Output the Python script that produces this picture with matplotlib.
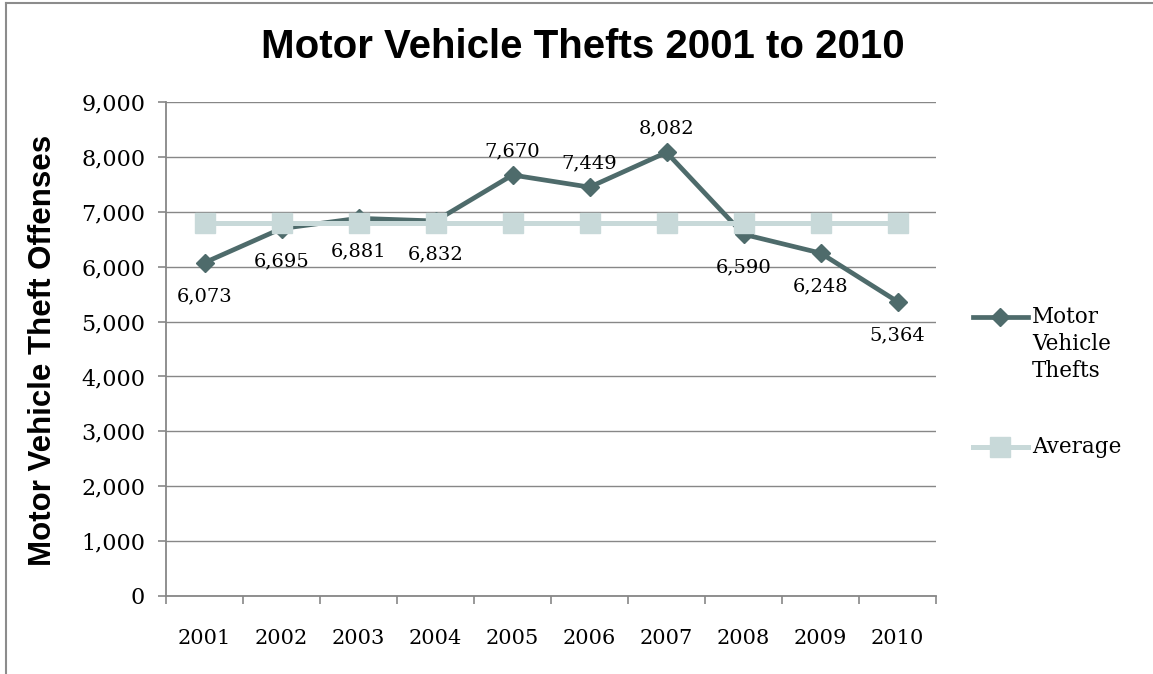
import matplotlib.pyplot as plt
from matplotlib.lines import Line2D
from matplotlib.ticker import StrMethodFormatter, FixedLocator

# Data
years = ['2001', '2002', '2003', '2004', '2005', '2006', '2007', '2008', '2009', '2010']
thefts = [6073, 6695, 6881, 6832, 7670, 7449, 8082, 6590, 6248, 5364]
average = [6788.4, 6788.4, 6788.4, 6788.4, 6788.4, 6788.4, 6788.4, 6788.4, 6788.4, 6788.4]
label_above = [False, False, False, False, True, True, True, False, False, False]

theft_color = '#4e6b6b'
avg_color = '#c8d9d9'
axis_color = '#878787'
serif = 'DejaVu Serif'

fig = plt.figure(figsize=(11.53, 6.74), dpi=100)
ax = fig.add_axes([166 / 1153, 78 / 674, 770 / 1153, 494 / 674])

x = list(range(len(years)))

# Series
ax.plot(x, thefts, color=theft_color, linewidth=3.4, marker='D', markersize=9.5,
        zorder=3)
ax.plot(x, average, color=avg_color, linewidth=3.6, marker='s', markersize=14,
        zorder=4)

# Data labels
for xi, val, up in zip(x, thefts, label_above):
    off = 17 if up else -24
    ax.annotate(f'{val:,}', (xi, val), xytext=(0, off), textcoords='offset points',
                ha='center', va='center', fontsize=14, family=serif, zorder=5)

# Axes
ax.set_xlim(-0.5, len(years) - 0.5)
ax.set_ylim(0, 9000)
ax.set_yticks(range(0, 9001, 1000))
ax.yaxis.set_major_formatter(StrMethodFormatter('{x:,.0f}'))
ax.set_xticks(x)
ax.set_xticklabels(years)
ax.xaxis.set_minor_locator(FixedLocator([i - 0.5 for i in range(len(years) + 1)]))
ax.tick_params(axis='x', which='major', length=0, pad=24, labelsize=15)
ax.tick_params(axis='x', which='minor', length=6, width=1.2, color=axis_color,
               direction='out')
ax.tick_params(axis='y', length=6, width=1.2, color=axis_color, pad=9,
               labelsize=16)
for lab in ax.get_xticklabels() + ax.get_yticklabels():
    lab.set_family(serif)

ax.grid(axis='y', color=axis_color, linewidth=1.0)
ax.set_axisbelow(True)
for side in ['top', 'right']:
    ax.spines[side].set_visible(False)
for side in ['left', 'bottom']:
    ax.spines[side].set_color(axis_color)
    ax.spines[side].set_linewidth(1.3)

# Title and axis label
fig.text(583 / 1153, 1 - 47 / 674, 'Motor Vehicle Thefts 2001 to 2010',
         ha='center', va='center', fontsize=29, fontweight='bold',
         family='Liberation Sans')
fig.text(43 / 1153, 1 - 350 / 674, 'Motor Vehicle Theft Offenses',
         ha='center', va='center', rotation=90, fontsize=22.5, fontweight='bold',
         family='Liberation Sans')

# Legend (drawn by hand so the key sits on the first text line)
fig.add_artist(Line2D([973 / 1153, 1028 / 1153], [1 - 317 / 674] * 2,
                      transform=fig.transFigure, color=theft_color, linewidth=3.4))
fig.add_artist(Line2D([1000 / 1153], [1 - 317 / 674], transform=fig.transFigure,
                      color=theft_color, marker='D', markersize=9.5))
fig.add_artist(Line2D([973 / 1153, 1028 / 1153], [1 - 447 / 674] * 2,
                      transform=fig.transFigure, color=avg_color, linewidth=3.6))
fig.add_artist(Line2D([1000 / 1153], [1 - 447 / 674], transform=fig.transFigure,
                      color=avg_color, marker='s', markersize=14))
fig.text(1032 / 1153, 1 - 344 / 674, 'Motor\nVehicle\nThefts', ha='left',
         va='center', fontsize=15.5, family=serif, linespacing=1.32)
fig.text(1032 / 1153, 1 - 447 / 674, 'Average', ha='left', va='center',
         fontsize=15.5, family=serif)

# Outer frame (top and left edges visible)
fig.add_artist(Line2D([6 / 1153, 6 / 1153], [0, 1 - 3 / 674],
                      transform=fig.transFigure, color='#8c8c8c', linewidth=1.5))
fig.add_artist(Line2D([6 / 1153, 1], [1 - 3 / 674] * 2,
                      transform=fig.transFigure, color='#8c8c8c', linewidth=1.5))

fig.savefig('out.png', dpi=100)
